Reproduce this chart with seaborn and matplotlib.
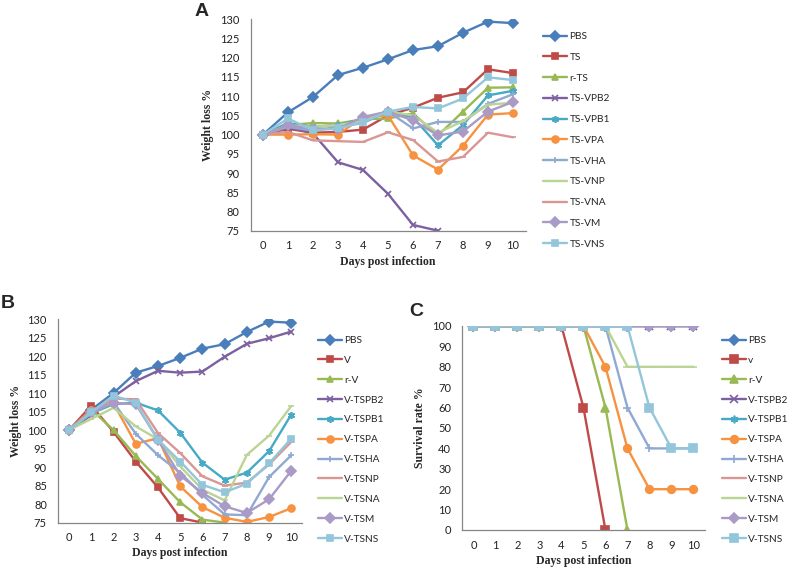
import numpy as np
import pandas as pd
import matplotlib
matplotlib.use("Agg")
import matplotlib.pyplot as plt
import seaborn as sns

# ---- data ----
days = [0, 1, 2, 3, 4, 5, 6, 7, 8, 9, 10]
nan = np.nan

# panel A: weight, TS groups
a_names = ["PBS", "TS", "r-TS", "TS-VPB2", "TS-VPB1", "TS-VPA", "TS-VHA",
           "TS-VNP", "TS-VNA", "TS-VM", "TS-VNS"]
a_pbs = [100, 105.8, 109.8, 115.5, 117.4, 119.6, 122, 123, 126.5, 129.4, 129]
a_ts = [100, 101.5, 100.5, 100.7, 101.3, 105, 107, 109.6, 111, 117, 116]
a_rts = [100, 102.5, 103, 102.9, 104, 104.2, 105.5, 99.8, 106, 112.2, 112.3]
a_vpb2 = [100, 102, 100.3, 92.8, 90.8, 84.6, 76.5, 75, nan, nan, nan]
a_vpb1 = [100, 103, 102, 102.5, 104, 106, 104.5, 97.2, 102.5, 110.2, 111.4]
a_vpa = [100, 100, 100.1, 100, 104.6, 105, 94.6, 90.9, 97.1, 105.2, 105.6]
a_vha = [100, 102, 101, 102, 103, 106, 101.6, 103.3, 103.3, 108, 110.5]
a_vnp = [100, 102.4, 102, 102.5, 103.5, 106, 105, 100.5, 103.5, 107.8, 108.3]
a_vna = [100, 100.7, 98.5, 98.3, 98.1, 100.6, 98.6, 93, 94.2, 100.5, 99.3]
a_vm = [100, 102.4, 101.5, 101.5, 104.6, 106, 103.7, 99.8, 100.8, 106, 108.5]
a_vns = [100, 104.2, 101.1, 101.6, 103.3, 106, 107.2, 106.8, 109.4, 114.9, 114.2]

# panel B: weight, V groups
b_names = ["PBS", "V", "r-V", "V-TSPB2", "V-TSPB1", "V-TSPA", "V-TSHA",
           "V-TSNP", "V-TSNA", "V-TSM", "V-TSNS"]
b_pbs = [100, 105.5, 110, 115.5, 117.3, 119.5, 122, 123.2, 126.5, 129.3, 129]
b_v = [100, 106.6, 99.5, 91.5, 84.5, 76.2, 75, nan, nan, nan, nan]
b_rv = [100, 105.5, 100, 93, 86.8, 80.5, 75.8, 75, nan, nan, nan]
b_vpb2 = [100, 104, 109, 113.2, 116, 115.5, 115.8, 119.8, 123.3, 124.8, 126.6]
b_vpb1 = [100, 104.5, 107, 107.4, 105.3, 99.3, 91.2, 86.6, 88.5, 94.3, 104.2]
b_vpa = [100, 105.5, 107.2, 96.3, 97.8, 84.8, 79.2, 76.3, 75.2, 76.5, 78.9]
b_vha = [100, 104.5, 107.5, 99, 93.2, 88.5, 82.5, 77.2, 77, 87.3, 93.2]
b_vnp = [100, 105, 108.5, 108.3, 99.2, 93.8, 87.5, 85, 85.8, 90.7, 96.8]
b_vna = [100, 103, 106, 101, 97.5, 90.2, 83.9, 81, 93.3, 98.5, 106.5]
b_vm = [100, 105, 107.3, 107, 97.4, 87.7, 83, 79.4, 77.6, 81.3, 89]
b_vns = [100, 104.8, 109.3, 107.4, 97.4, 91.5, 85.2, 83.2, 85.5, 91, 97.7]

# panel C: survival
c_names = ["PBS", "v", "r-V", "V-TSPB2", "V-TSPB1", "V-TSPA", "V-TSHA",
           "V-TSNP", "V-TSNA", "V-TSM", "V-TSNS"]
c_pbs = [100, 100, 100, 100, 100, 100, 100, 100, 100, 100, 100]
c_v = [100, 100, 100, 100, 100, 60, 0, nan, nan, nan, nan]
c_rv = [100, 100, 100, 100, 100, 100, 60, 0, nan, nan, nan]
c_vpb2 = [100, 100, 100, 100, 100, 100, 100, 100, 100, 100, 100]
c_vpb1 = [100, 100, 100, 100, 100, 100, 100, 100, 100, 100, 100]
c_vpa = [100, 100, 100, 100, 100, 100, 80, 40, 20, 20, 20]
c_vha = [100, 100, 100, 100, 100, 100, 100, 60, 40, 40, 40]
c_vnp = [100, 100, 100, 100, 100, 100, 100, 100, 100, 100, 100]
c_vna = [100, 100, 100, 100, 100, 100, 100, 80, 80, 80, 80]
c_vm = [100, 100, 100, 100, 100, 100, 100, 100, 100, 100, 100]
c_vns = [100, 100, 100, 100, 100, 100, 100, 100, 60, 40, 40]

# ---- styling ----
BLUE, RED, GREEN, PURPLE, TEAL, ORANGE = "#4A7EBB", "#BE4B48", "#98B954", "#7D60A0", "#46AAC5", "#F69240"
LBLUE, LGREEN, PINK, LAV, LCYAN = "#8FA9D3", "#BBD494", "#D99694", "#A99BC6", "#93C6DA"
STAR = (6, 2, 0)
markers = ["D", "s", "^", "x", STAR, "o", "+", "_", "_", "D", "s"]
a_colors = [BLUE, RED, GREEN, PURPLE, TEAL, ORANGE, LBLUE, LGREEN, PINK, LAV, LCYAN]
bc_colors = [BLUE, RED, GREEN, PURPLE, TEAL, ORANGE, LBLUE, PINK, LGREEN, LAV, LCYAN]

sns.set_style("white")
plt.rcParams["font.family"] = ["Lato", "DejaVu Sans"]
AXCOL = "#868686"
W, H = 792, 575

fig = plt.figure(figsize=(7.92, 5.75), dpi=100)


def px_axes(left, right, top, bottom):
    return fig.add_axes([left / W, 1 - bottom / H, (right - left) / W, (bottom - top) / H])


def draw_panel(ax, names, series, colors, ylim, yticks, ylabel, lw, ms, leg_x, leg_y, leg_sp):
    for name, vals, col, mk in zip(names, series, colors, markers):
        d = pd.DataFrame({"day": days, "value": vals}).dropna()
        sns.lineplot(data=d, x="day", y="value", ax=ax, color=col, marker=mk,
                     markersize=ms, markeredgecolor=col, markeredgewidth=1.2,
                     linewidth=lw, label=name, legend=False, estimator=None)
    ax.set_xlim(-0.5, 10.5)
    ax.set_ylim(*ylim)
    ax.set_xticks(days)
    ax.set_xticks(np.arange(-0.5, 11, 1), minor=True)
    ax.set_yticks(yticks)
    ax.tick_params(axis="x", which="major", length=0, pad=7, labelsize=8, labelcolor="#222222")
    ax.tick_params(axis="x", which="minor", length=3, direction="out", color=AXCOL, width=0.8)
    ax.tick_params(axis="y", length=3, direction="out", color=AXCOL, width=0.8,
                   pad=5, labelsize=8, labelcolor="#222222")
    sns.despine(ax=ax)
    for s in ["left", "bottom"]:
        ax.spines[s].set_color(AXCOL)
        ax.spines[s].set_linewidth(0.9)
    ax.set_xlabel("Days post infection", family="Liberation Serif", fontweight="bold",
                  fontsize=8.5, labelpad=3)
    ax.set_ylabel(ylabel, family="Liberation Serif", fontweight="bold", fontsize=8.5, labelpad=4)
    h, l = ax.get_legend_handles_labels()
    ax.legend(h, l, loc="upper left", bbox_to_anchor=(leg_x / W, 1 - leg_y / H),
              bbox_transform=fig.transFigure, frameon=False, fontsize=7.3,
              handlelength=2.4, handletextpad=0.2, labelspacing=leg_sp,
              borderpad=0, borderaxespad=0)


ax_a = px_axes(250.5, 525.5, 19.3, 230.7)
draw_panel(ax_a, a_names,
           [a_pbs, a_ts, a_rts, a_vpb2, a_vpb1, a_vpa, a_vha, a_vnp, a_vna, a_vm, a_vns],
           a_colors, (75, 130), range(75, 131, 5), "Weight loss %", 1.7, 5, 543, 32, 1.15)

ax_b = px_axes(58, 302.4, 319, 522.6)
draw_panel(ax_b, b_names,
           [b_pbs, b_v, b_rv, b_vpb2, b_vpb1, b_vpa, b_vha, b_vnp, b_vna, b_vm, b_vns],
           bc_colors, (75, 130), range(75, 131, 5), "Weight loss %", 1.7, 5, 318, 336, 1.06)

ax_c = px_axes(462.4, 704.5, 326, 530)
draw_panel(ax_c, c_names,
           [c_pbs, c_v, c_rv, c_vpb2, c_vpb1, c_vpa, c_vha, c_vnp, c_vna, c_vm, c_vns],
           bc_colors, (0, 100), range(0, 101, 10), "Survival rate %", 1.7, 5.5, 722, 336, 1.06)

for letter, x, y in [("A", 202, 12), ("B", 8, 303), ("C", 416, 311)]:
    fig.text(x / W, 1 - y / H, letter, family="Liberation Sans", fontweight="bold",
             fontsize=14, ha="center", va="center")

fig.savefig("out.png", dpi=100)
